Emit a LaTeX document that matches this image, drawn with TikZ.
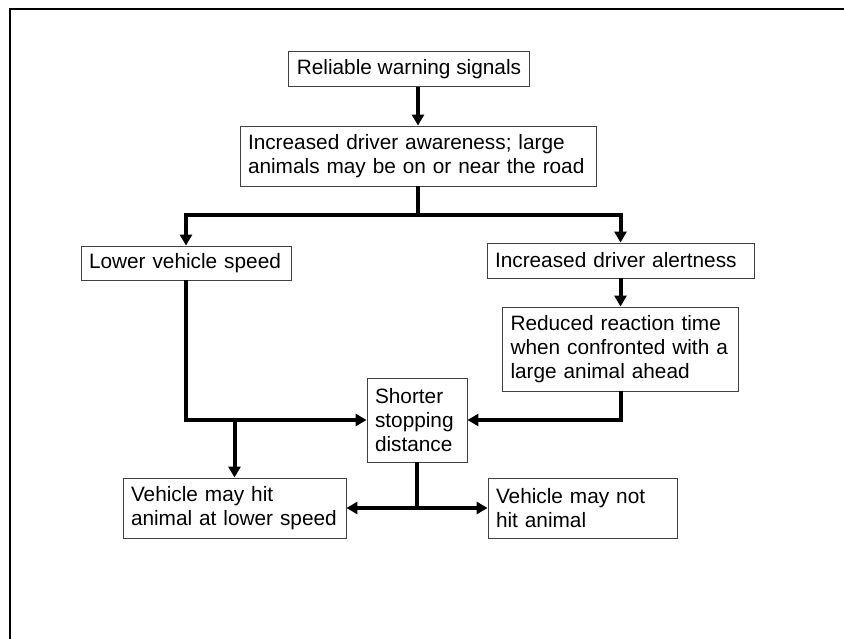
\documentclass[tikz,border=0pt]{standalone}
\usepackage{fontspec}
\setmainfont{Liberation Sans}
\usetikzlibrary{arrows.meta}

\begin{document}
\begin{tikzpicture}[x=1pt,y=-1pt,>={Triangle[length=11pt,width=12pt]}]
    \tikzstyle{fact}=[draw=black!75,line width=0.9pt,inner xsep=8pt,inner ysep=0pt,align=left,font=\fontsize{20.8}{24}\selectfont]
    \tikzstyle{flow}=[->,line width=4pt]
    \useasboundingbox (0,0) rectangle (844,639);
    \draw[line width=2.7pt] (10,639) -- (10,9) -- (844,9);% frame, cut off at right and bottom
    \node[fact,align=center,minimum width=232pt,minimum height=35pt] (warn) at (409,69) {Reliable warning signals};
    \node[fact,text width=340pt,minimum height=60pt] (aware) at (418,156) {Increased driver awareness; large\\animals may be on or near the road};
    \node[fact,text width=194pt,minimum height=34pt] (lower) at (186,263) {Lower vehicle speed};
    \node[fact,text width=251pt,minimum height=35pt] (alert) at (620.5,260.5) {Increased driver alertness};
    \node[fact,text width=220pt,minimum height=84pt] (reduced) at (620.5,349) {Reduced reaction time\\when confronted with a\\large animal ahead};
    \node[fact,text width=84pt,minimum height=84pt] (shorter) at (417,420) {Shorter\\stopping\\distance};
    \node[fact,text width=207pt,minimum height=60pt] (hit) at (234.5,508) {Vehicle may hit\\animal at lower speed};
    \node[fact,text width=173pt,minimum height=60pt] (nothit) at (582.5,508) {Vehicle may not\\hit animal};
    \draw[flow] (warn.south -| aware.north) -- (aware.north);
    \draw[flow] (aware.south) -- ++(0,29) -| (lower.north);
    \draw[flow] (aware.south) -- ++(0,29) -| (alert.north);
    \draw[flow] (alert.south) -- (reduced.north);
    \draw[flow] (lower.south) |- (shorter.west);
    \draw[flow] (reduced.south) |- (shorter.east);
    \draw[flow] (hit.north |- shorter.west) -- (hit.north);% branch to the lower left box
    \draw[flow] (shorter.south) |- (hit.east);
    \draw[flow] (shorter.south) |- (nothit.west);
\end{tikzpicture}
\end{document}
